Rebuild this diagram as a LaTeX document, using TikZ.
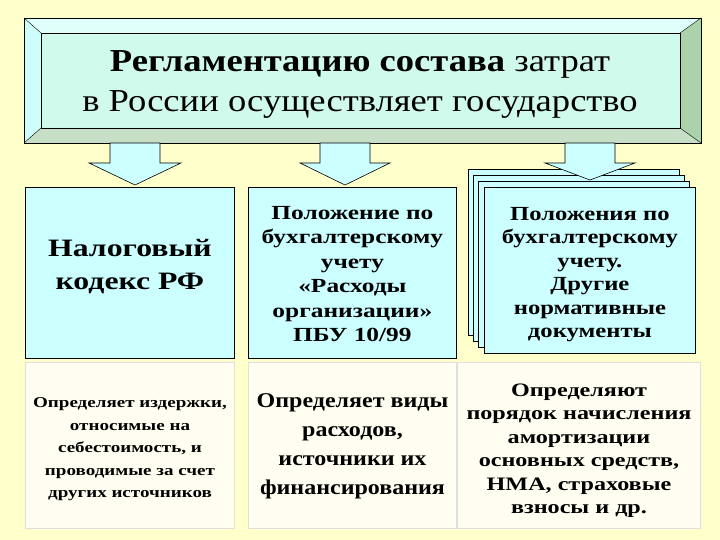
\documentclass[tikz,border=0pt]{standalone}
\usepackage{fontspec}
\setmainfont{Liberation Serif}
\definecolor{bgy}{RGB}{255,255,204}
\definecolor{cy}{RGB}{204,255,255}
\definecolor{topf}{RGB}{208,250,235}
\begin{document}
\begin{tikzpicture}[x=1pt,y=-1pt,
  cyanbox/.style={draw=black,fill=cy,line width=0.8pt},
  ybox/.style={draw=gray!25,fill=yellow!6,line width=1pt},
  blockarrow/.style={draw=black,fill=cy,line width=0.6pt},
  txt/.style={align=center,text=black,xscale=1.27,transform shape}]
\fill[bgy] (0,0) rectangle (720,540);
\useasboundingbox (0,0) rectangle (720,540);
% top bevel box
\fill[topf] (24,18) rectangle (701,143);
\fill[green!12!cyan!12!white] (24,18) -- (701,18) -- (680,33) -- (41,33) -- cycle;
\fill[green!30!gray!50] (701,18) -- (701,143) -- (680,128) -- (680,33) -- cycle;
\fill[green!25!gray!35] (24,143) -- (701,143) -- (680,128) -- (41,128) -- cycle;
\fill[green!10!cyan!20!white] (24,18) -- (41,33) -- (41,128) -- (24,143) -- cycle;
\node[draw=black,line width=0.8pt,minimum width=677pt,minimum height=125pt,anchor=north west,inner sep=0] (top) at (24,18) {};
\draw (24,18)--(41,33) (701,18)--(680,33) (24,143)--(41,128) (701,143)--(680,128);
\draw (41,33) rectangle (680,128);
\node[txt,xscale=0.9,font=\fontsize{32}{40}\selectfont] (title) at (360,84) {\textbf{Регламентацию состава} затрат\\в России осуществляет государство};
% boxes row1
\node[cyanbox,minimum width=209pt,minimum height=171pt,anchor=north west] (b1) at (25,187) {};
\node[txt,font=\bfseries\fontsize{25}{33}\selectfont] at ([yshift=6pt]b1.center) {Налоговый\\кодекс РФ};
\node[cyanbox,minimum width=208pt,minimum height=171pt,anchor=north west] (b2) at (248,187) {};
\node[txt,font=\bfseries\fontsize{20}{24.5}\selectfont] at ([yshift=-1pt]b2.center) {Положение по\\бухгалтерскому\\учету\\«Расходы\\организации»\\ПБУ 10/99};
\node[cyanbox,minimum width=211pt,minimum height=166pt,anchor=north west] (p3) at (468,169) {};
\node[cyanbox,minimum width=211pt,minimum height=166pt,anchor=north west] (p2) at (473,175) {};
\node[cyanbox,minimum width=211pt,minimum height=166pt,anchor=north west] (p1) at (478,181) {};
\node[cyanbox,minimum width=211pt,minimum height=166pt,anchor=north west] (b3) at (484,187) {};
\node[txt,xscale=0.97,font=\bfseries\fontsize{20}{23.5}\selectfont] at ([yshift=-4pt]b3.center) {Положения по\\бухгалтерскому\\учету.\\Другие\\нормативные\\документы};
% arrows
\foreach \cx/\sw/\hw/\tip/\n in {135/25/46/185/a1,345/25/45/185/a2,590/25/45/180/a3}{
 \draw[blockarrow] (\cx-\sw,143) -- (\cx+\sw,143) -- (\cx+\sw,163) -- (\cx+\hw,163) -- (\cx,\tip) -- (\cx-\hw,163) -- (\cx-\sw,163) -- cycle;
 \coordinate (\n) at (\cx,\tip);
}
% row2
\node[ybox,minimum width=209pt,minimum height=166pt,anchor=north west] (c1) at (25,362) {};
\node[txt,font=\bfseries\fontsize{15}{22.5}\selectfont] at ([yshift=-4pt]c1.center) {Определяет издержки,\\относимые на\\себестоимость, и\\проводимые за счет\\других источников};
\node[ybox,minimum width=208pt,minimum height=166pt,anchor=north west] (c2) at (248,362) {};
\node[txt,xscale=0.9,font=\bfseries\fontsize{21}{29}\selectfont] at ([yshift=-1pt]c2.center) {Определяет виды\\расходов,\\источники их\\финансирования};
\node[ybox,minimum width=243pt,minimum height=166pt,anchor=north west] (c3) at (457,362) {};
\node[txt,font=\bfseries\fontsize{19}{23.5}\selectfont] at ([yshift=-5pt]c3.center) {Определяют\\порядок начисления\\амортизации\\основных средств,\\НМА, страховые\\взносы и др.};
\end{tikzpicture}
\end{document}
